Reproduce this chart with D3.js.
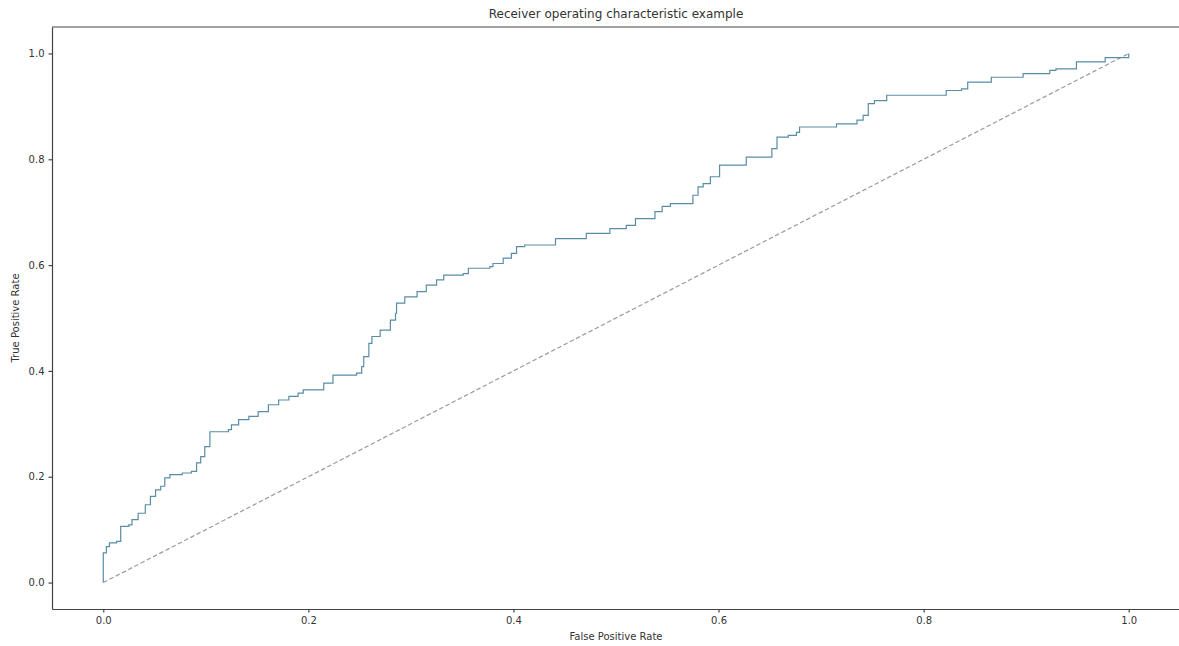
<!DOCTYPE html>
<html>
<head>
<meta charset="utf-8">
<script src="https://cdn.jsdelivr.net/npm/d3@7"></script>
<style>
  body { margin: 0; background: #fff; }
  text { font-family: "DejaVu Sans", sans-serif; fill: #333; }
</style>
</head>
<body>
<div id="chart"></div>
<script>
// ROC curve points (step curve)
var fpr = [0.000, 0.000, 0.003, 0.006, 0.013, 0.017, 0.025, 0.028, 0.034, 0.041, 0.046, 0.051,
           0.056, 0.060, 0.065, 0.077, 0.086, 0.091, 0.095, 0.099, 0.104, 0.122, 0.125, 0.132,
           0.142, 0.151, 0.161, 0.171, 0.181, 0.190, 0.195, 0.215, 0.224, 0.247, 0.252, 0.254,
           0.259, 0.262, 0.270, 0.280, 0.285, 0.286, 0.294, 0.306, 0.315, 0.325, 0.332, 0.351,
           0.356, 0.377, 0.380, 0.390, 0.398, 0.403, 0.411, 0.441, 0.471, 0.494, 0.510, 0.519,
           0.538, 0.545, 0.553, 0.575, 0.580, 0.585, 0.592, 0.601, 0.627, 0.652, 0.657, 0.668,
           0.676, 0.679, 0.715, 0.735, 0.741, 0.746, 0.752, 0.764, 0.822, 0.837, 0.843, 0.866,
           0.897, 0.923, 0.929, 0.949, 0.977, 1.000];
var tpr = [0.000, 0.056, 0.068, 0.075, 0.078, 0.106, 0.109, 0.119, 0.131, 0.147, 0.163, 0.175,
           0.182, 0.198, 0.204, 0.207, 0.210, 0.226, 0.238, 0.257, 0.285, 0.289, 0.298, 0.308,
           0.314, 0.323, 0.336, 0.345, 0.352, 0.358, 0.364, 0.377, 0.392, 0.396, 0.408, 0.427,
           0.452, 0.465, 0.477, 0.496, 0.509, 0.528, 0.540, 0.550, 0.562, 0.572, 0.581, 0.584,
           0.594, 0.597, 0.603, 0.613, 0.622, 0.635, 0.638, 0.650, 0.660, 0.669, 0.675, 0.688,
           0.701, 0.711, 0.716, 0.732, 0.748, 0.754, 0.767, 0.789, 0.804, 0.820, 0.842, 0.845,
           0.851, 0.861, 0.867, 0.874, 0.883, 0.905, 0.911, 0.921, 0.930, 0.933, 0.946, 0.955,
           0.962, 0.968, 0.971, 0.984, 0.992, 1.000];
var diag = [0, 1];
var ticks = [0.0, 0.2, 0.4, 0.6, 0.8, 1.0];

var width = 1179, height = 646;
var margin = {top: 27, right: -1, bottom: 37, left: 52};

var svg = d3.select("#chart").append("svg")
    .attr("width", width)
    .attr("height", height);

var x = d3.scaleLinear().domain([-0.05, 1.05]).range([margin.left, width - margin.right]);
var y = d3.scaleLinear().domain([-0.05, 1.05]).range([height - margin.bottom, margin.top]);

var pts = fpr.map(function(d, i) { return [d, tpr[i]]; });

// diagonal reference line
svg.append("path")
    .datum(diag)
    .attr("d", d3.line().x(function(d) { return x(d); }).y(function(d) { return y(d); }))
    .attr("fill", "none")
    .attr("stroke", "#9a9a9a")
    .attr("stroke-width", 1.2)
    .attr("stroke-dasharray", "4.5,2.5");

// roc curve
svg.append("path")
    .datum(pts)
    .attr("d", d3.line().curve(d3.curveStepAfter)
        .x(function(d) { return x(d[0]); })
        .y(function(d) { return y(d[1]); }))
    .attr("fill", "none")
    .attr("stroke", "#5a8ca6")
    .attr("stroke-width", 1.2);

// axes
svg.append("g")
    .attr("transform", "translate(0," + (height - margin.bottom) + ")")
    .call(d3.axisBottom(x).tickValues(ticks).tickFormat(d3.format(".1f")).tickSize(3.5).tickSizeOuter(0).tickPadding(4));
svg.append("g")
    .attr("transform", "translate(" + margin.left + ",0)")
    .call(d3.axisLeft(y).tickValues(ticks).tickFormat(d3.format(".1f")).tickSize(3.5).tickSizeOuter(0).tickPadding(4));

svg.selectAll(".tick text").style("font-family", "DejaVu Sans").style("font-size", "10px").attr("fill", "#333");
svg.selectAll(".domain, .tick line").attr("stroke", "#444").attr("stroke-width", 1.2);

// top frame line
svg.append("line")
    .attr("x1", margin.left).attr("x2", width)
    .attr("y1", margin.top).attr("y2", margin.top)
    .attr("stroke", "#444")
    .attr("stroke-width", 1.2);

svg.append("text")
    .attr("x", (x(-0.05) + x(1.05)) / 2)
    .attr("y", 18)
    .attr("text-anchor", "middle")
    .style("font-size", "12px")
    .text("Receiver operating characteristic example");

svg.append("text")
    .attr("x", (x(-0.05) + x(1.05)) / 2)
    .attr("y", 640)
    .attr("text-anchor", "middle")
    .style("font-size", "10px")
    .text("False Positive Rate");

svg.append("text")
    .attr("transform", "translate(19," + ((y(-0.05) + y(1.05)) / 2) + ") rotate(-90)")
    .attr("text-anchor", "middle")
    .style("font-size", "10px")
    .text("True Positive Rate");
</script>
</body>
</html>
